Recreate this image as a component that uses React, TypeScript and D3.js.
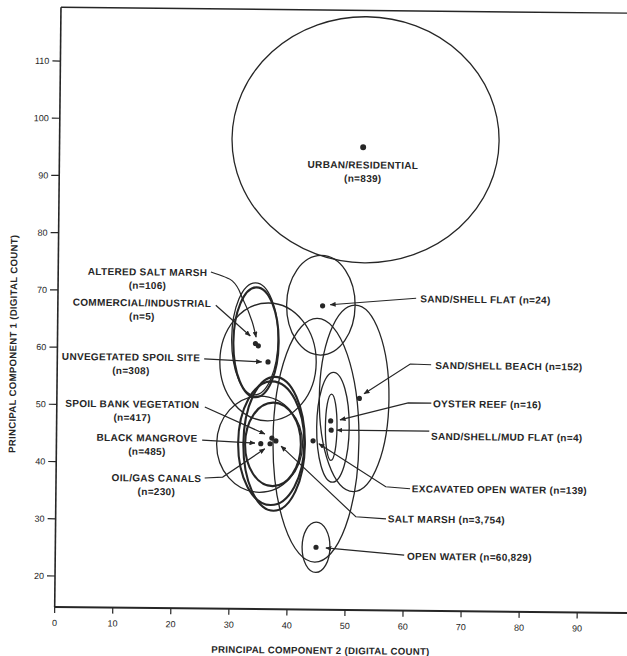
import React from "react";
import * as d3 from "d3";

// land-cover classes, sample sizes and class means (digital counts)
const classNames = [
  "URBAN/RESIDENTIAL", "SAND/SHELL FLAT", "SAND/SHELL BEACH", "OYSTER REEF",
  "SAND/SHELL/MUD FLAT", "EXCAVATED OPEN WATER", "SALT MARSH", "OPEN WATER",
  "ALTERED SALT MARSH", "COMMERCIAL/INDUSTRIAL", "UNVEGETATED SPOIL SITE",
  "SPOIL BANK VEGETATION", "BLACK MANGROVE", "OIL/GAS CANALS",
];
const sampleCounts = ["839", "24", "152", "16", "4", "139", "3,754", "60,829", "106", "5", "308", "417", "485", "230"];
const meanPC2 = [52.3, 45.6, 52.1, 47.2, 47.3, 44.2, 37.8, 44.9, 34.6, 34.1, 36.3, 37.1, 35.2, 36.8];
const meanPC1 = [95.5, 67.7, 51.6, 47.6, 46.0, 44.1, 44.0, 25.5, 60.6, 61.0, 57.8, 44.5, 43.5, 43.5];

// class ellipses: centre and half axes
const ellipsePC2 = [52.7, 45.3, 51.2, 47.6, 47.3, 44.7, 37.5, 44.9, 34.0, 34.2, 36.3, 37.0, 35.0, 37.3];
const ellipsePC1 = [96.8, 67.8, 51.6, 46.5, 46.5, 44.2, 43.5, 25.5, 61.8, 61.2, 57.8, 43.6, 43.4, 43.4];
const spreadPC2 = [23.0, 5.9, 6.0, 2.8, 1.0, 7.4, 5.3, 2.4, 4.0, 3.9, 8.3, 5.7, 7.4, 4.8];
const spreadPC1 = [21.5, 8.7, 16.3, 9.6, 5.8, 21.3, 11.7, 4.4, 9.8, 9.6, 10.3, 10.8, 8.4, 7.3];
const boldOutline = [false, false, false, false, false, false, true, false, false, true, false, true, false, true];

// label placement (data units) and leader lines
const labelPC2 = [52.3, 62.4, 65.1, 64.8, 64.5, 61.3, 57.2, 60.6, 15.4, 14.5, 12.7, 13.0, 15.6, 17.3];
const labelPC1 = [92.4, 69.1, 57.5, 50.8, 45.1, 35.9, 30.6, 24.1, 73.3, 67.9, 58.4, 50.2, 44.3, 37.3];
const twoLineLabel = [true, false, false, false, false, false, false, false, true, true, true, true, true, true];
const leaders: ([number, number][] | null)[] = [
  null,
  [[61.7, 69.2], [46.9, 67.9]],
  [[64.4, 57.6], [60.8, 57.7], [52.9, 52.4]],
  [[64.5, 50.9], [60.5, 50.9], [48.8, 47.8]],
  [[64.2, 46.0], [48.3, 46.0]],
  [[61.0, 35.9], [56.8, 36.2], [45.2, 43.6]],
  [[56.9, 30.6], [51.7, 30.9], [38.7, 43.1]],
  [[60.1, 24.3], [46.6, 25.4]],
  [[26.3, 73.4], [30.0, 71.9], [31.9, 68.6], [33.5, 64.8], [34.2, 62.1]],
  [[27.2, 67.6], [33.2, 62.3]],
  [[25.3, 58.2], [35.2, 57.8]],
  [[25.5, 49.8], [35.9, 45.2]],
  [[25.1, 44.0], [34.2, 43.6]],
  [[25.6, 37.4], [28.7, 37.6], [35.9, 42.6]],
];

const xTicks = [0, 10, 20, 30, 40, 50, 60, 70, 80, 90];
const yTicks = [20, 30, 40, 50, 60, 70, 80, 90, 100, 110];

const width = 627, height = 656;
const ink = "#262626";
const font = "'Liberation Sans', Arial, sans-serif";

export default function App() {
  const x = d3.scaleLinear().domain([0, 90]).range([54.7, 577.2]);
  const y = d3.scaleLinear().domain([20, 110]).range([576, 61]);
  const yBottom = y(14.58), yTop = y(119.4), xRight = x(102);
  const leaderLine = d3.line<[number, number]>()
    .x(d => x(d[0]))
    .y(d => y(d[1]))
    .curve(d3.curveMonotoneY);
  const straight = d3.line<[number, number]>().x(d => x(d[0])).y(d => y(d[1]));

  return (
    <svg width={width} height={height} style={{ position: "absolute", left: 0, top: 0, background: "#fff" }}>
      <defs>
        <marker id="arrow" viewBox="0 0 6 5" refX="5.5" refY="2.5" markerWidth="6" markerHeight="5"
          markerUnits="userSpaceOnUse" orient="auto">
          <path d="M0,0 L6,2.5 L0,5 z" fill={ink} />
        </marker>
      </defs>
      <g transform={`rotate(0.6, ${x(0)}, ${yBottom})`} fontFamily={font} fill={ink}>
        {/* frame */}
        <line x1={x(0)} y1={yTop} x2={xRight} y2={yTop} stroke={ink} strokeWidth={1.4} />
        <line x1={x(0)} y1={yTop} x2={x(0)} y2={yBottom} stroke={ink} strokeWidth={1.6} />
        <line x1={x(0)} y1={yBottom} x2={xRight} y2={yBottom} stroke={ink} strokeWidth={2} />

        {xTicks.map(t => (
          <g key={"x" + t}>
            <line x1={x(t)} x2={x(t)} y1={yBottom} y2={yBottom + 6} stroke={ink} strokeWidth={1.2} />
            <text x={x(t)} y={yBottom + 19} textAnchor="middle" fontSize={9}>{t}</text>
          </g>
        ))}
        {yTicks.map(t => (
          <g key={"y" + t}>
            <line x1={x(0) - 8} x2={x(0)} y1={y(t)} y2={y(t)} stroke={ink} strokeWidth={1.2} />
            <text x={x(0) - 11} y={y(t) + 3.2} textAnchor="end" fontSize={9}>{t}</text>
          </g>
        ))}

        <text x={(x(0) + x(90)) / 2 + 5} y={yBottom + 44} textAnchor="middle" fontSize={9.6}
          fontWeight="bold" letterSpacing={0.3}>PRINCIPAL COMPONENT 2 (DIGITAL COUNT)</text>
        <text transform={`translate(${x(0) - 41}, ${y(60.5)}) rotate(-90)`} textAnchor="middle" fontSize={9.6}
          fontWeight="bold" letterSpacing={0.3}>PRINCIPAL COMPONENT 1 (DIGITAL COUNT)</text>

        {/* class ellipses */}
        {classNames.map((c, i) => (
          <ellipse key={"e" + c} cx={x(ellipsePC2[i])} cy={y(ellipsePC1[i])}
            rx={x(spreadPC2[i]) - x(0)} ry={y(0) - y(spreadPC1[i])}
            fill="none" stroke={ink} strokeWidth={boldOutline[i] ? 2.1 : 1.3} />
        ))}

        {/* leaders */}
        {leaders.map((pts, i) => pts && (
          <path key={"l" + i} d={(pts.length > 3 ? leaderLine(pts) : straight(pts)) || ""}
            fill="none" stroke={ink} strokeWidth={1.2} markerEnd="url(#arrow)" />
        ))}

        {/* class means */}
        {classNames.map((c, i) => (
          <circle key={"m" + c} cx={x(meanPC2[i])} cy={y(meanPC1[i])} r={i === 0 ? 3 : 2.6} fill={ink} />
        ))}

        {/* labels */}
        {classNames.map((c, i) => twoLineLabel[i] ? (
          <text key={"t" + c} x={x(labelPC2[i])} y={y(labelPC1[i]) + 3.5} textAnchor="middle"
            fontSize={10} fontWeight="bold" letterSpacing={0.3}>
            <tspan x={x(labelPC2[i])}>{c}</tspan>
            <tspan x={x(labelPC2[i])} dy={13.5}>(n={sampleCounts[i]})</tspan>
          </text>
        ) : (
          <text key={"t" + c} x={x(labelPC2[i])} y={y(labelPC1[i]) + 3.5} textAnchor="start"
            fontSize={10} fontWeight="bold" letterSpacing={0.3}>{c} (n={sampleCounts[i]})</text>
        ))}
      </g>
    </svg>
  );
}
